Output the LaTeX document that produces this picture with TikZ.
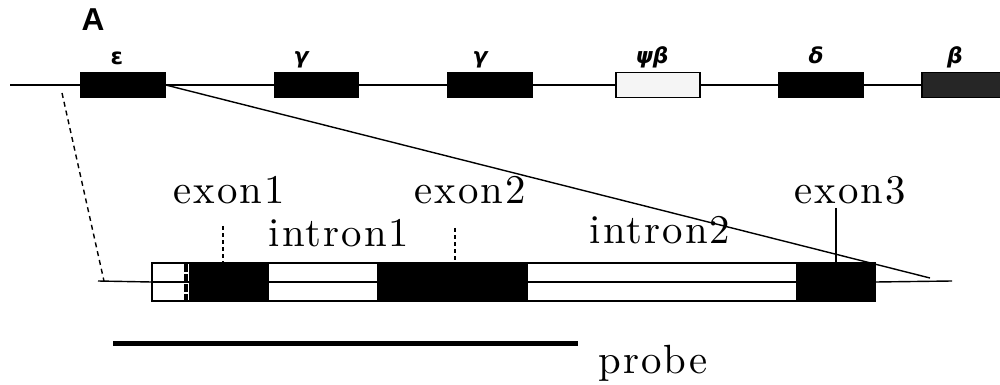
\documentclass[tikz,border=0pt]{standalone}
\usepackage{fontspec}
\newfontfamily\greekf{DejaVu Sans}
\newfontfamily\headf{Liberation Sans}
\newfontfamily\labf{lmroman10-regular.otf}[LetterSpace=5]
\begin{document}
\begin{tikzpicture}[x=0.01cm,y=-0.01cm,
  thin line/.style={line width=0.4pt},
  gene/.style={draw, fill=black, line width=0.4pt, inner sep=0pt, minimum width=0.84cm, minimum height=0.25cm},
  pseudo/.style={gene, fill=gray!8},
  genelab/.style={font=\greekf\bfseries\itshape\fontsize{6.2}{7}\selectfont, anchor=base, inner sep=0pt},
  seg/.style={draw, line width=0.4pt, inner sep=0pt, minimum height=0.38cm},
  exonseg/.style={seg, fill=black},
  intronseg/.style={seg, fill=white},
  biglab/.style={font=\labf\fontsize{11.6}{13}\selectfont, anchor=base, inner sep=0pt},
]
\useasboundingbox (0,0) rectangle (1000,385);

% panel letter
\node[font=\headf\bfseries\fontsize{9}{10}\selectfont, anchor=base, inner sep=0pt] (A) at (93,31) {A};

% top locus
\coordinate (L0) at (10,85);
\coordinate (L1) at (1000,85);
\draw[thin line] (L0) -- (L1);
\node[gene] (eps) at (123,85) {};
\node[gene] (g1) at (316.5,85) {};
\node[gene] (g2) at (490,85) {};
\node[pseudo] (pb) at (658,85) {};
\node[gene] (d) at (821,85) {};
\node[gene, fill=black!85] (b) at (964,85) {};

\node[genelab] (leps) at (117,65) {\normalfont\greekf\bfseries\fontsize{6.4}{7}\selectfont ε};
\node[genelab] (lg1) at (301,64) {γ};
\node[genelab] (lg2) at (480,64) {γ};
\node[genelab] (lpb) at (652,64) {ψβ};
\node[genelab] (ld) at (816,64) {δ};
\node[genelab] (lb) at (955,64) {β};

% bottom gene
\coordinate (B0) at (98,281);
\coordinate (B1) at (952,281);
\node[intronseg, minimum width=0.38cm] (utr) at (171,282) {};
\node[exonseg, minimum width=0.78cm] (ex1) at (229,282) {};
\node[intronseg, minimum width=1.10cm] (in1) at (323,282) {};
\node[exonseg, minimum width=1.49cm] (ex2) at (452.5,282) {};
\node[intronseg, minimum width=2.70cm] (in2) at (662,282) {};
\node[exonseg, minimum width=0.78cm] (ex3) at (836,282) {};
\draw[thin line] (B0) -- (utr.west);
\draw[thin line] (utr.west) -- (ex1.west);
\draw[thin line] (in1.west) -- (in1.east);
\draw[thin line] (in2.west) -- (in2.east);
\draw[thin line] (ex3.east) -- (B1);
\draw[line width=1.1pt, dash pattern=on 0.075cm off 0.025cm] (186,264) -- (186,301);

% zoom lines
\coordinate (Z1) at (930,278);
\coordinate (Z0) at (62,93);
\coordinate (Z2) at (104,281);
\draw[thin line] (eps.east) -- (Z1);
\draw[thin line, dash pattern=on 0.05cm off 0.04cm] (Z0) -- (Z2);

% labels
\node[biglab] (le1) at (229,203) {exon1};
\node[biglab] (le2) at (470,203) {exon2};
\node[biglab] (le3) at (850,203) {exon3};
\node[biglab] (li1) at (339,247) {intron1};
\node[biglab] (li2) at (660,243) {intron2};

\coordinate (t1) at (223,226);
\coordinate (t2) at (455,228);
\coordinate (t3) at (836,208);
\draw[line width=0.3pt, dash pattern=on 0.04cm off 0.03cm] (t1) -- (t1 |- ex1.north);
\draw[line width=0.3pt, dash pattern=on 0.04cm off 0.03cm] (t2) -- (t2 |- ex2.north);
\draw[thin line] (t3) -- (t3 |- ex3.north);

% probe
\node[draw=none, fill=black, inner sep=0pt, minimum width=4.65cm, minimum height=0.045cm] (probebar) at (345.5,343.5) {};
\node[biglab] (lprobe) at (653,373) {probe};
\end{tikzpicture}
\end{document}
